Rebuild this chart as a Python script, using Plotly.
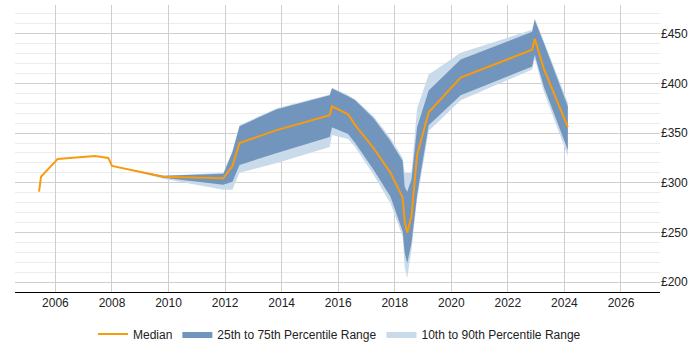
import plotly.graph_objects as go

# Median series
x_med = [2005.42, 2005.49, 2006.08, 2007.4, 2007.87, 2008.0, 2009.82, 2011.94, 2012.26, 2012.51,
         2013.83, 2015.7, 2015.78, 2016.35, 2016.6, 2017.25, 2017.85, 2018.28, 2018.35, 2018.44,
         2018.59, 2018.79, 2019.2, 2020.33, 2022.86, 2022.95, 2023.27, 2024.12]
median = [291, 306, 324, 327, 325, 317, 306, 304.5, 317, 340,
          353, 368, 377, 369, 358, 335, 310, 285, 261, 250,
          266, 328, 371, 406, 434, 445, 415, 356]

# Percentile bands
x_band = [2008.0, 2009.82, 2011.94, 2012.26, 2012.51, 2013.83, 2015.7, 2015.78, 2016.35, 2016.6,
          2017.25, 2017.85, 2018.28, 2018.35, 2018.44, 2018.59, 2018.79, 2019.2, 2020.33, 2022.86,
          2022.95, 2023.27, 2024.12]
p90 = [317, 307, 310, 332, 358, 375, 389, 396, 388, 384, 367, 345, 325, 310, 310, 310, 375, 409, 431, 454, 466, 443, 381]
p75 = [317, 307, 309, 331, 357, 374, 388, 395, 387, 383, 365, 342, 322, 296, 291, 303, 356, 393, 424, 452, 464, 441, 377]
p25 = [317, 305, 298, 301, 318, 330, 346, 356, 349, 340, 313, 286, 251, 230, 219, 239, 288, 358, 388, 417, 429, 397, 333]
p10 = [317, 304, 293, 293, 310, 320, 336, 348, 344, 336, 308, 279, 246, 215, 204, 232, 283, 352, 383, 414, 425, 392, 327]

x_ticks = [2006, 2008, 2010, 2012, 2014, 2016, 2018, 2020, 2022, 2024, 2026]
y_ticks = [200, 250, 300, 350, 400, 450]
y_labels = ["£%d" % v for v in y_ticks]

DARK = "#7195bd"
LIGHT = "#c9daeb"
ORANGE = "#f99b0c"

fig = go.Figure()
fig.add_trace(go.Scatter(x=x_band, y=p10, mode="lines", line=dict(width=0, color=LIGHT),
                         showlegend=False, hoverinfo="skip"))
fig.add_trace(go.Scatter(x=x_band, y=p90, mode="lines", line=dict(width=0, color=LIGHT),
                         fill="tonexty", fillcolor=LIGHT, name="10th to 90th Percentile Range",
                         legendrank=3))
fig.add_trace(go.Scatter(x=x_band, y=p25, mode="lines", line=dict(width=0, color=DARK),
                         showlegend=False, hoverinfo="skip"))
fig.add_trace(go.Scatter(x=x_band, y=p75, mode="lines", line=dict(width=0, color=DARK),
                         fill="tonexty", fillcolor=DARK, name="25th to 75th Percentile Range",
                         legendrank=2))
fig.add_trace(go.Scatter(x=x_med, y=median, mode="lines", line=dict(width=2, color=ORANGE),
                         name="Median", legendrank=1))

fig.update_layout(
    width=700, height=350,
    margin=dict(l=15, r=40, t=5, b=58, autoexpand=False),
    paper_bgcolor="white", plot_bgcolor="white",
    font=dict(family="Liberation Sans, Arial, sans-serif", size=12, color="#222"),
    showlegend=True,
    legend=dict(orientation="h", x=0.485, xanchor="center", xref="container",
                y=0.046, yanchor="middle", yref="container",
                font=dict(size=12), itemwidth=30, traceorder="normal"),
    xaxis=dict(range=[2004.57, 2027.38], tickvals=x_ticks, ticks="", showgrid=True,
               gridcolor="#cfcfcf", gridwidth=1, showline=True, linecolor="#000", linewidth=1,
               zeroline=False, fixedrange=True),
    yaxis=dict(range=[190, 479], side="right", tickvals=y_ticks, ticktext=y_labels, ticks="",
               showgrid=True, gridcolor="#cfcfcf", gridwidth=1, zeroline=False,
               minor=dict(dtick=10, showgrid=True, gridcolor="#ececec", gridwidth=1),
               showline=False, fixedrange=True),
)

fig.write_html("out.html")
